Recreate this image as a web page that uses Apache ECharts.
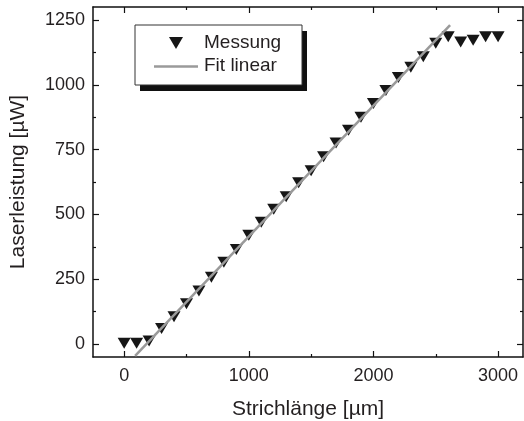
<!DOCTYPE html>
<html>
<head>
<meta charset="utf-8">
<script src="https://cdn.jsdelivr.net/npm/echarts@6/dist/echarts.min.js"></script>
<style>html,body{margin:0;padding:0;background:#fff}#c{width:524px;height:421px}</style>
</head>
<body>
<div id="c"></div>
<script>
// ---- data ----
const xValues = [0,100,200,300,400,500,600,700,800,900,1000,1100,1200,1300,1400,1500,1600,1700,1800,1900,2000,2100,2200,2300,2400,2500,2600,2700,2800,2900,3000];
const yValues = [3,3,12,60,105,155,205,258,315,365,420,470,520,568,622,668,722,775,825,875,928,978,1028,1068,1108,1160,1185,1165,1172,1185,1185];
const fitX = [88, 2615];
const fitY = [-46, 1230];
const xMajorTicks = [0,1000,2000,3000];
const xMinorTicks = [500,1500,2500];
const yMajorTicks = [0,250,500,750,1000,1250];
const yMinorTicks = [125,375,625,875,1125];
const seriesNames = ['Messung','Fit linear'];
const xTitle = 'Strichlänge [µm]';
const yTitle = 'Laserleistung [µW]';

const FONT = '"Liberation Sans", Arial, Helvetica, sans-serif';
const TXT = '#231f20';
const TRI = 'path://M0,0 L12,0 L6,10 Z';

function axis(kind, pos, ticks, len, showLine, labels, extra) {
  const a = {
    type: 'value', position: pos, gridIndex: 0,
    min: kind === 'x' ? -250 : -50,
    max: kind === 'x' ? 3200 : 1300,
    axisLine: { show: showLine, onZero: false, lineStyle: { color: '#111', width: 1.5 } },
    axisTick: { show: true, inside: true, length: len, customValues: ticks, lineStyle: { color: '#111', width: 1.2 } },
    axisLabel: labels ? { show: true, customValues: ticks, fontSize: 18, color: TXT, fontFamily: FONT,
      margin: kind === 'x' ? 10 : 8,
      formatter: v => String(v) } : { show: false },
    splitLine: { show: false }
  };
  return Object.assign(a, extra || {});
}

const pairs = xValues.map((x, i) => [x, yValues[i]]);
const fitPairs = fitX.map((x, i) => [x, fitY[i]]);

const chart = echarts.init(document.getElementById('c'), null, { renderer: 'canvas' });
chart.setOption({
  animation: false,
  backgroundColor: '#fff',
  grid: { left: 93, right: 1, top: 7, bottom: 64, containLabel: false, outerBoundsMode: 'none' },
  xAxis: [
    axis('x', 'bottom', xMajorTicks, 6, true, true, {
      name: xTitle, nameLocation: 'middle', nameGap: 42,
      nameTextStyle: { fontSize: 21, color: TXT, fontFamily: FONT }
    }),
    axis('x', 'bottom', xMinorTicks, 3, false, false),
    axis('x', 'top', xMajorTicks, 6, true, false),
    axis('x', 'top', xMinorTicks, 3, false, false)
  ],
  yAxis: [
    axis('y', 'left', yMajorTicks, 6, true, true, {
      name: yTitle, nameLocation: 'middle', nameGap: 64,
      nameTextStyle: { fontSize: 21, color: TXT, fontFamily: FONT }
    }),
    axis('y', 'left', yMinorTicks, 3, false, false),
    axis('y', 'right', yMajorTicks, 6, true, false),
    axis('y', 'right', yMinorTicks, 3, false, false)
  ],
  series: [
    {
      name: seriesNames[0], type: 'scatter', xAxisIndex: 0, yAxisIndex: 0,
      data: pairs, symbol: TRI, symbolSize: [13, 11],
      itemStyle: { color: '#161616', opacity: 1 }, z: 2
    },
    {
      name: seriesNames[1], type: 'line', xAxisIndex: 0, yAxisIndex: 0,
      data: fitPairs, showSymbol: false, symbol: 'none',
      lineStyle: { color: '#9a9a9a', width: 2.5 }, z: 3
    }
  ],
  graphic: [
    { type: 'rect', shape: { x: 140, y: 31, width: 167, height: 60 }, style: { fill: '#111' }, z: 10 },
    { type: 'rect', shape: { x: 135, y: 25, width: 167, height: 60 }, style: { fill: '#fff', stroke: '#333', lineWidth: 1 }, z: 11 },
    { type: 'polygon', shape: { points: [[169, 37], [183, 37], [176, 49]] }, style: { fill: '#161616' }, z: 12 },
    { type: 'line', shape: { x1: 154, y1: 66.5, x2: 198, y2: 66.5 }, style: { stroke: '#9a9a9a', lineWidth: 2.5 }, z: 12 },
    { type: 'text', x: 204, y: 43, style: { text: seriesNames[0], font: '19px ' + FONT, fill: TXT, verticalAlign: 'middle' }, z: 12 },
    { type: 'text', x: 204, y: 66, style: { text: seriesNames[1], font: '19px ' + FONT, fill: TXT, verticalAlign: 'middle' }, z: 12 }
  ]
});
</script>
</body>
</html>
